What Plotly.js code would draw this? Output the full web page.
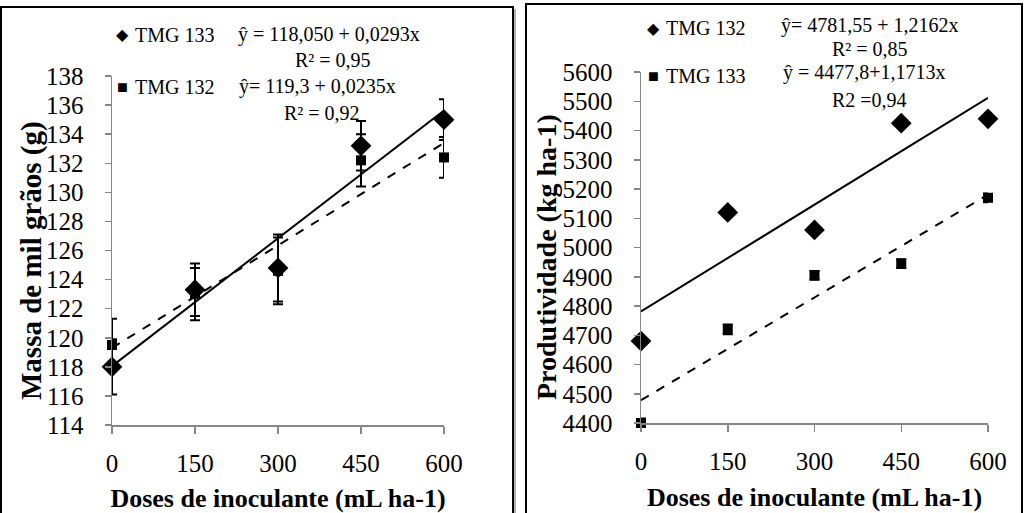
<!DOCTYPE html>
<html>
<head>
<meta charset="utf-8">
<script src="https://cdn.plot.ly/plotly-3.0.1.min.js"></script>
<style>html,body{margin:0;padding:0;background:#fff;}#chart{width:1024px;height:513px;}</style>
</head>
<body>
<div id="chart"></div>
<script>
// ---- data ----
const doses = [0, 150, 300, 450, 600];
const doseTicks = ['0', '150', '300', '450', '600'];

// Left panel: Massa de mil grãos (g)
const massaTMG133 = [118.0, 123.3, 124.8, 133.2, 135.0];
const massaTMG133Err = [1.9, 1.8, 2.3, 1.7, 1.4];
const massaTMG132 = [119.5, 123.0, 124.6, 132.2, 132.4];
const massaTMG132Err = [1.8, 1.8, 2.3, 1.8, 1.4];
const massaFit133 = [118.050, 0.0293];
const massaFit132 = [119.3, 0.0235];

// Right panel: Produtividade (kg ha-1)
const prodTMG132 = [4680, 5120, 5060, 5425, 5440];
const prodTMG133 = [4400, 4720, 4905, 4945, 5170];
const prodTMG133Err = [15, 17, 15, 15, 15];
const prodFit132 = [4781.55, 1.2162];
const prodFit133 = [4477.8, 1.1713];

// ---- helpers ----
const W = 1024, H = 513;
const px = x => x / W;
const py = y => 1 - y / H;
const FONT = "'Liberation Serif', 'Times New Roman', serif";
const fitLine = (c, xs) => xs.map(x => c[0] + c[1] * x);
const fitX = [doses[0], doses[doses.length - 1]];

const axisCommon = {
  showgrid: false, zeroline: false, showline: true,
  linecolor: '#868686', linewidth: 1.5,
  ticks: 'outside', tickcolor: '#868686', tickwidth: 1.5,
  tickfont: {family: FONT, size: 25, color: '#000'},
  fixedrange: true
};

const errStyle = (arr) => ({type: 'data', array: arr, visible: true, color: '#000', thickness: 2, width: 5});

const traces = [
  // left trendlines
  {x: fitX, y: fitLine(massaFit133, fitX), xaxis: 'x', yaxis: 'y', mode: 'lines',
   line: {color: '#000', width: 2}, showlegend: false, hoverinfo: 'skip', cliponaxis: false},
  {x: fitX, y: fitLine(massaFit132, fitX), xaxis: 'x', yaxis: 'y', mode: 'lines',
   line: {color: '#000', width: 2, dash: 'dash'}, showlegend: false, hoverinfo: 'skip', cliponaxis: false},
  // left points
  {x: doses, y: massaTMG132, xaxis: 'x', yaxis: 'y', mode: 'markers', name: 'TMG 132',
   marker: {symbol: 'square', size: 10, color: '#000'}, error_y: errStyle(massaTMG132Err),
   showlegend: false, cliponaxis: false},
  {x: doses, y: massaTMG133, xaxis: 'x', yaxis: 'y', mode: 'markers', name: 'TMG 133',
   marker: {symbol: 'diamond', size: 16, color: '#000'}, error_y: errStyle(massaTMG133Err),
   showlegend: false, cliponaxis: false},
  // right trendlines
  {x: fitX, y: fitLine(prodFit132, fitX), xaxis: 'x2', yaxis: 'y2', mode: 'lines',
   line: {color: '#000', width: 2}, showlegend: false, hoverinfo: 'skip', cliponaxis: false},
  {x: fitX, y: fitLine(prodFit133, fitX), xaxis: 'x2', yaxis: 'y2', mode: 'lines',
   line: {color: '#000', width: 2, dash: 'dash'}, showlegend: false, hoverinfo: 'skip', cliponaxis: false},
  // right points
  {x: doses, y: prodTMG133, xaxis: 'x2', yaxis: 'y2', mode: 'markers', name: 'TMG 133',
   marker: {symbol: 'square', size: 10, color: '#000'}, error_y: errStyle(prodTMG133Err),
   showlegend: false, cliponaxis: false},
  {x: doses, y: prodTMG132, xaxis: 'x2', yaxis: 'y2', mode: 'markers', name: 'TMG 132',
   marker: {symbol: 'diamond', size: 16, color: '#000'},
   showlegend: false, cliponaxis: false}
];

const txt = (x, y, text, size, extra) => Object.assign({
  xref: 'paper', yref: 'paper', x: px(x), y: py(y), text: text, showarrow: false,
  xanchor: 'left', yanchor: 'middle', font: {family: FONT, size: size, color: '#000'}
}, extra || {});

const annotations = [
  // y-axis titles
  txt(31, 261, '<b>Massa de mil grãos (g)</b>', 29, {xanchor: 'center', textangle: -90}),
  txt(546, 257, '<b>Produtividade (kg ha-1)</b>', 28, {xanchor: 'center', textangle: -90}),
  // left legend / equations
  txt(122, 35, '◆', 16, {xanchor: 'center'}),
  txt(133, 35, 'TMG 133', 20),
  txt(236, 35, 'ŷ = 118,050 + 0,0293x', 20),
  txt(293, 60, 'R² = 0,95', 20),
  txt(122, 87, '■', 18, {xanchor: 'center'}),
  txt(133, 87, 'TMG 132', 20),
  txt(237, 87, 'ŷ= 119,3 + 0,0235x', 20),
  txt(282, 113, 'R² = 0,92', 20),
  // right legend / equations
  txt(653, 28, '◆', 16, {xanchor: 'center'}),
  txt(664, 28, 'TMG 132', 20),
  txt(779, 25, 'ŷ= 4781,55 + 1,2162x', 20),
  txt(830, 49, 'R² = 0,85', 20),
  txt(653, 76, '■', 18, {xanchor: 'center'}),
  txt(664, 76, 'TMG 133', 20),
  txt(781, 72, 'ŷ = 4477,8+1,1713x', 20),
  txt(830, 100, 'R2 =0,94', 20)
];

const layout = {
  width: W, height: H,
  margin: {l: 0, r: 0, t: 0, b: 0},
  paper_bgcolor: '#fff', plot_bgcolor: 'rgba(0,0,0,0)',
  showlegend: false,
  hovermode: false,
  xaxis: Object.assign({}, axisCommon, {
    domain: [px(112), px(444)], range: [0, 600],
    tickvals: doses, ticktext: doseTicks, ticklen: 7, ticklabelstandoff: 8,
    anchor: 'y',
    title: {text: '<b>Doses de inoculante (mL ha-1)</b>', font: {family: FONT, size: 26, color: '#000'}, standoff: 14}
  }),
  yaxis: Object.assign({}, axisCommon, {
    domain: [py(425), py(76)], range: [114, 138], dtick: 2, tick0: 114, ticklen: 6, ticklabelstandoff: 16,
    anchor: 'x'
  }),
  xaxis2: Object.assign({}, axisCommon, {
    domain: [px(641), px(988)], range: [0, 600],
    tickvals: doses, ticktext: doseTicks, ticklen: 7, ticklabelstandoff: 8,
    anchor: 'y2',
    title: {text: '<b>Doses de inoculante (mL ha-1)</b>', font: {family: FONT, size: 26, color: '#000'}, standoff: 14}
  }),
  yaxis2: Object.assign({}, axisCommon, {
    domain: [py(423), py(72)], range: [4400, 5600], dtick: 100, tick0: 4400, ticklen: 6, ticklabelstandoff: 16,
    anchor: 'x2'
  }),
  annotations: annotations,
  shapes: [
    {type: 'rect', xref: 'paper', yref: 'paper', x0: px(1), x1: px(513), y0: py(516), y1: py(7),
     line: {color: '#000', width: 2}, fillcolor: 'rgba(0,0,0,0)', layer: 'below'},
    {type: 'line', xref: 'paper', yref: 'paper', x0: px(515), x1: px(515), y0: py(516), y1: py(9),
     line: {color: '#9a9a9a', width: 1.5}, layer: 'below'},
    {type: 'rect', xref: 'paper', yref: 'paper', x0: px(526), x1: px(1022), y0: py(516), y1: py(4),
     line: {color: '#000', width: 2}, fillcolor: 'rgba(0,0,0,0)', layer: 'below'}
  ]
};

Plotly.newPlot('chart', traces, layout, {displayModeBar: false, staticPlot: true});
</script>
</body>
</html>
